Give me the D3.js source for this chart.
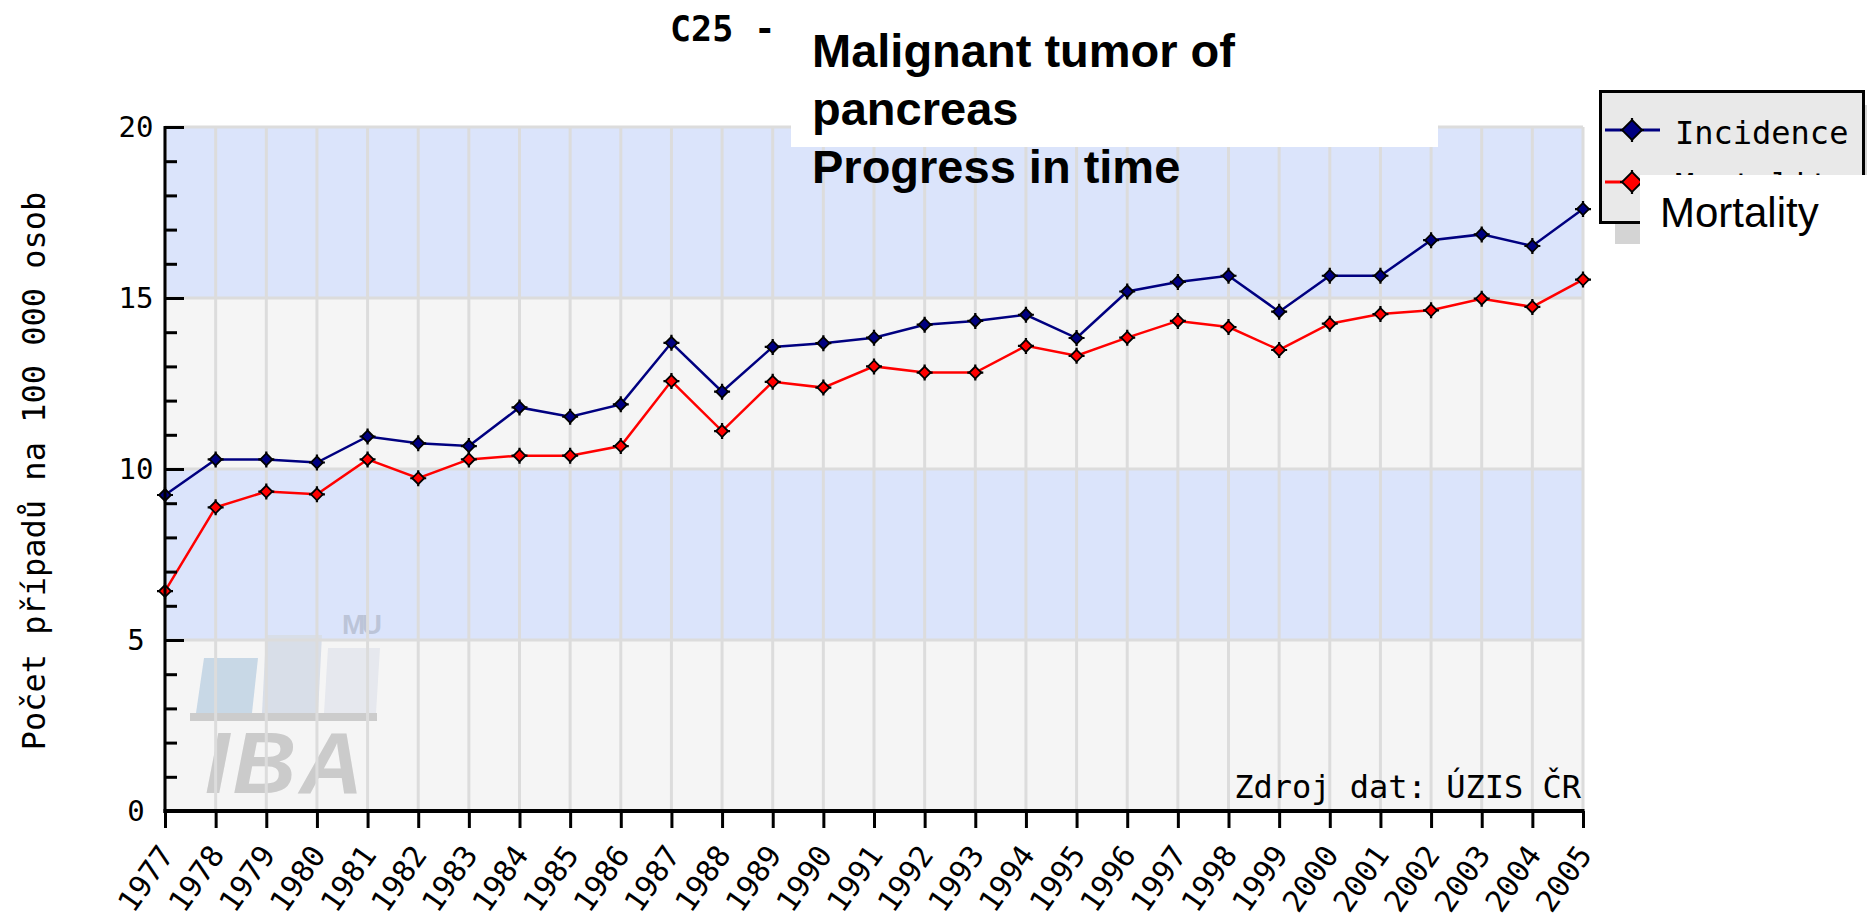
<!DOCTYPE html>
<html>
<head>
<meta charset="utf-8">
<script src="https://cdn.jsdelivr.net/npm/d3@7"></script>
<style>
  html, body { margin: 0; padding: 0; background: #ffffff; }
  svg { display: block; }
</style>
</head>
<body>
<svg id="chart" width="1867" height="917"></svg>
<script>
// ---- data ----
const years = ["1977","1978","1979","1980","1981","1982","1983","1984","1985","1986",
  "1987","1988","1989","1990","1991","1992","1993","1994","1995","1996",
  "1997","1998","1999","2000","2001","2002","2003","2004","2005"];
const incidence = [9.24,10.28,10.28,10.19,10.95,10.75,10.67,11.80,11.53,11.89,
  13.69,12.26,13.57,13.68,13.84,14.22,14.33,14.51,13.83,15.19,
  15.47,15.65,14.60,15.65,15.65,16.69,16.86,16.52,17.60];
const mortality = [6.43,8.88,9.34,9.26,10.28,9.73,10.28,10.39,10.39,10.67,
  12.57,11.11,12.55,12.38,13.00,12.82,12.82,13.60,13.31,13.84,
  14.33,14.15,13.48,14.25,14.53,14.64,14.98,14.74,15.54];
const yTicks = [0, 5, 10, 15, 20];
const yMinorTicks = d3.range(0, 21, 1);
const seriesNames = ["Incidence", "Mortality"];
const titleCode = "C25 -";
const titleLines = ["Malignant tumor of", "pancreas", "Progress in time"];
const yTitle = "Počet případů na 100 000 osob";
const sourceText = "Zdroj dat: ÚZIS ČR";

// ---- layout ----
const svg = d3.select("#chart");
const pLeft = 165, pRight = 1583, pTop = 127, pBottom = 811;
const mono = "'DejaVu Sans Mono', 'Liberation Mono', monospace";
const sans = "'Liberation Sans', Arial, Helvetica, sans-serif";

const x = d3.scalePoint().domain(years).range([pLeft, pRight]);
const y = d3.scaleLinear().domain([0, 20]).range([pBottom, pTop]);

// bands
const bandColors = ["#f5f5f5", "#dbe4fb"];
const bands = d3.pairs(yTicks);
svg.append("g").selectAll("rect").data(bands).join("rect")
  .attr("x", pLeft).attr("width", pRight - pLeft)
  .attr("y", d => y(d[1])).attr("height", d => y(d[0]) - y(d[1]))
  .attr("fill", (d, i) => bandColors[i % 2]);

// watermark (decoration)
const wm = svg.append("g");
wm.append("polygon").attr("points", "204,658 258,658 252,713 196,713").attr("fill", "#c8d8e6");
wm.append("polygon").attr("points", "266,635 322,635 318,713 262,713").attr("fill", "#d8dee8");
wm.append("polygon").attr("points", "328,648 380,648 376,713 324,713").attr("fill", "#e6e8ee");
wm.append("rect").attr("x", 190).attr("y", 713).attr("width", 187).attr("height", 8).attr("fill", "#cccccc");
wm.append("text").attr("x", 205).attr("y", 793).text("IBA")
  .attr("font-family", sans).attr("font-weight", "bold").attr("font-style", "italic")
  .attr("font-size", 88).attr("fill", "#cbcbcb").attr("textLength", 158);
wm.append("text").attr("x", 342).attr("y", 634).text("MU")
  .attr("font-family", sans).attr("font-weight", "bold")
  .attr("font-size", 28).attr("fill", "#bcc4d8").attr("textLength", 40);

// grid
const grid = svg.append("g").attr("stroke", "#dcdcdc").attr("stroke-width", 3);
grid.selectAll("line.v").data(years).join("line").attr("class", "v")
  .attr("x1", d => x(d)).attr("x2", d => x(d)).attr("y1", pTop).attr("y2", pBottom);
grid.selectAll("line.h").data(yTicks.filter(t => t > 0)).join("line").attr("class", "h")
  .attr("x1", pLeft).attr("x2", pRight).attr("y1", d => y(d)).attr("y2", d => y(d));

// source text
svg.append("text").attr("x", 1581).attr("y", 798).attr("text-anchor", "end")
  .attr("font-family", mono).attr("font-size", 32).attr("fill", "#000")
  .text(sourceText);

// series
const colors = ["#000080", "#ff0000"];
const allSeries = [incidence, mortality];
const line = d3.line().x((d, i) => x(years[i])).y(d => y(d));
function marker(g, cx, cy, color, r) {
  const s = g.append("g").attr("transform", `translate(${cx},${cy})`);
  s.append("path").attr("d", `M0,${-r-2}V${r+2}M${-r-2},0H${r+2}`).attr("stroke", "#000").attr("stroke-width", 2.2);
  s.append("path").attr("d", `M0,${-r}L${r},0L0,${r}L${-r},0Z`).attr("fill", color).attr("stroke", "#000").attr("stroke-width", 1.8);
}
allSeries.forEach((vals, k) => {
  svg.append("path").datum(vals).attr("d", line).attr("fill", "none")
    .attr("stroke", colors[k]).attr("stroke-width", 2.5);
});
allSeries.forEach((vals, k) => {
  const g = svg.append("g");
  vals.forEach((v, i) => marker(g, x(years[i]), y(v), colors[k], 6));
});

// y axis
svg.append("g").attr("transform", `translate(${pLeft},0)`)
  .call(d3.axisRight(y).tickValues(yMinorTicks).tickSize(12).tickFormat(""))
  .call(g => g.selectAll("line").attr("stroke", "#000").attr("stroke-width", 3))
  .call(g => g.select(".domain").remove());
svg.append("g").attr("transform", `translate(${pLeft},0)`)
  .call(d3.axisRight(y).tickValues(yTicks).tickSize(19).tickFormat(""))
  .call(g => g.selectAll("line").attr("stroke", "#000").attr("stroke-width", 3))
  .call(g => g.select(".domain").remove());
svg.append("line").attr("x1", pLeft).attr("x2", pLeft).attr("y1", pTop - 1).attr("y2", pBottom + 2)
  .attr("stroke", "#000").attr("stroke-width", 3);
svg.append("g").selectAll("text").data(yTicks).join("text")
  .attr("x", 136).attr("y", d => y(d) + 10).attr("text-anchor", "middle")
  .attr("font-family", mono).attr("font-size", 29).attr("fill", "#000")
  .text(d => d);

// x axis
const xAxis = svg.append("g").attr("transform", `translate(0,${pBottom})`)
  .call(d3.axisBottom(x).tickSize(17).tickFormat(""));
xAxis.select(".domain").remove();
xAxis.selectAll("line").attr("stroke", "#000").attr("stroke-width", 3);
svg.append("line").attr("x1", pLeft - 1.5).attr("x2", pRight + 1.5).attr("y1", pBottom).attr("y2", pBottom)
  .attr("stroke", "#000").attr("stroke-width", 4);
svg.append("g").selectAll("text").data(years).join("text")
  .attr("transform", d => `translate(${x(d) + 10},${pBottom + 44}) rotate(-55)`)
  .attr("text-anchor", "end")
  .attr("font-family", mono).attr("font-size", 30).attr("fill", "#000")
  .text(d => d);

// y title
svg.append("text").attr("transform", "translate(45,471) rotate(-90)")
  .attr("text-anchor", "middle").attr("font-family", mono).attr("font-size", 32)
  .attr("fill", "#000").text(yTitle);

// title
svg.append("text").attr("x", 670).attr("y", 41).attr("font-family", mono)
  .attr("font-weight", "bold").attr("font-size", 35).attr("fill", "#000").text(titleCode);
svg.append("rect").attr("x", 791).attr("y", 0).attr("width", 647).attr("height", 147).attr("fill", "#fff");
svg.append("g").selectAll("text").data(titleLines).join("text")
  .attr("x", 812).attr("y", (d, i) => 67 + i * 58)
  .attr("font-family", sans).attr("font-weight", "bold").attr("font-size", 47)
  .attr("fill", "#000").text(d => d);

// legend
const lg = svg.append("g");
lg.append("rect").attr("x", 1615).attr("y", 105).attr("width", 270).attr("height", 139).attr("fill", "#d4d4d4");
lg.append("rect").attr("x", 1600.5).attr("y", 91.5).attr("width", 263).attr("height", 131)
  .attr("fill", "#e9e9e9").attr("stroke", "#000").attr("stroke-width", 3);
const clip = svg.append("defs").append("clipPath").attr("id", "legclip");
clip.append("rect").attr("x", 1590).attr("y", 80).attr("width", 280).attr("height", 95);
seriesNames.forEach((name, k) => {
  const cy = 130 + k * 52;
  lg.append("line").attr("x1", 1605).attr("x2", 1660).attr("y1", cy).attr("y2", cy)
    .attr("stroke", colors[k]).attr("stroke-width", 3);
  marker(lg, 1632, cy, colors[k], 10);
  lg.append("text").attr("x", 1675).attr("y", cy + 14).attr("font-family", mono)
    .attr("clip-path", "url(#legclip)")
    .attr("font-size", 32).attr("fill", "#000").text(name);
});
// white overlay with translated label
svg.append("rect").attr("x", 1640).attr("y", 175).attr("width", 227).attr("height", 75).attr("fill", "#fff");
svg.append("text").attr("x", 1660).attr("y", 227).attr("font-family", sans)
  .attr("font-size", 42).attr("fill", "#000").text(seriesNames[1]);
</script>
</body>
</html>
